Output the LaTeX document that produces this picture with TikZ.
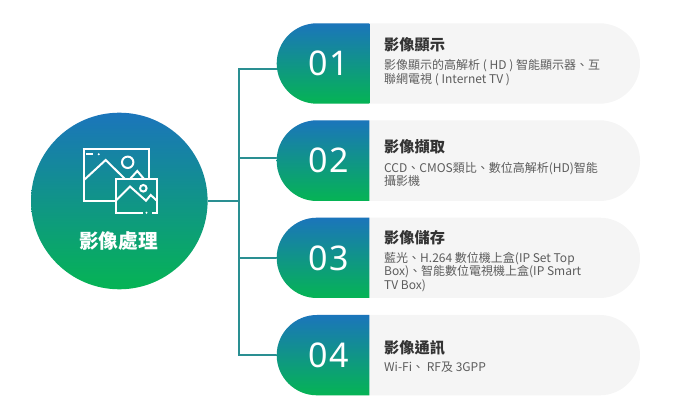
\documentclass[tikz,border=0pt]{standalone}
\usepackage{fontspec}
\setmainfont{Noto Sans CJK TC}
\newfontfamily\numfont{Noto Sans}
\definecolor{gblue}{HTML}{1B75BB}
\definecolor{ggreen}{HTML}{05B454}
\definecolor{linkc}{HTML}{2A8F92}
\definecolor{pillc}{HTML}{F5F5F5}
\definecolor{titlec}{HTML}{333333}
\definecolor{bodyc}{HTML}{5C5C5C}
\tikzset{
  grad/.style={top color=gblue,bottom color=ggreen,draw=none},
  hubnode/.style={circle,grad,minimum size=176.6pt,inner sep=0pt},
  hublabel/.style={text=white,inner sep=0pt,font=\fontsize{19.7}{22}\selectfont\bfseries},
  link/.style={draw=linkc,line width=2pt},
  iconline/.style={draw=white,line width=2pt,line cap=butt,line join=miter},
  numlabel/.style={text=white,inner sep=0pt,font=\numfont\fontsize{34}{38}\selectfont},
  titlelabel/.style={text=titlec,anchor=base west,inner sep=0pt,font=\fontsize{15.2}{18}\selectfont\bfseries},
  bodylabel/.style={text=bodyc,anchor=west,inner sep=0pt,align=left,font=\fontsize{12}{13.3}\selectfont},
}
\newcommand{\pillrow}[4]{%
  \fill[pillc,rounded corners=40.2pt] (276.7,#2) -- (640,#2) -- (640,#3) -- (276.7,#3) -- cycle;
  \path[grad] (369.3,#2) [rounded corners=40.2pt] -- (276.7,#2) -- (276.7,#3) [sharp corners] -- (369.3,#3) -- cycle;
  \node[numlabel] (#1) at (328.5,{(#2+#3)/2}) {#4};
}
\begin{document}
\begin{tikzpicture}[x=1pt,y=-1pt]
\useasboundingbox (0,0) rectangle (674,419);
% connectors
\node[hubnode] (hub) at (119.3,201) {};
\coordinate (c1) at (280,69);
\coordinate (c2) at (280,158);
\coordinate (c3) at (280,258);
\coordinate (c4) at (280,355);
\coordinate (s1) at (239.3,69);
\coordinate (s2) at (239.3,158);
\coordinate (s3) at (239.3,258);
\coordinate (s4) at (239.3,355);
\draw[link] (c1) -- (s1) -- (s4) -- (c4);
\draw[link] (c2) -- (s2);
\draw[link] (c3) -- (s3);
\draw[link] (hub.east) -- (hub.east -| s1);
% rows
\pillrow{n1}{23.3}{103.7}{0\kern1.5pt 1}
\pillrow{n2}{120.3}{201}{0\kern1.5pt 2}
\pillrow{n3}{217.7}{298}{0\kern1.5pt 3}
\pillrow{n4}{315}{395.3}{0\kern1.5pt 4}
% texts
\node[titlelabel] (t1) at (384,50.6) {影像顯示};
\node[bodylabel] (b1) at (384,72.5) {影像顯示的高解析 ( HD ) 智能顯示器、互\\聯網電視 ( Internet TV )};
\node[titlelabel] (t2) at (384,152.3) {影像擷取};
\node[bodylabel] (b2) at (384,174.5) {CCD、CMOS類比、數位高解析(HD)智能\\攝影機};
\node[titlelabel] (t3) at (384,243.9) {影像儲存};
\node[bodylabel] (b3) at (384,272) {藍光、H.264 數位機上盒(IP Set Top\\Box)、智能數位電視機上盒(IP Smart\\TV Box)};
\node[titlelabel] (t4) at (384,353.3) {影像通訊};
\node[bodylabel] (b4) at (384,367.6) {Wi-Fi、 RF及 3GPP};
% hub label
\node[hublabel] (hl) at (118.5,240.7) {影像處理};
% icon: large frame
\draw[iconline] (93,149) -- (83.5,149) (83.5,149) -- (83.5,201.5) -- (115.5,201.5);
\draw[iconline] (82.5,149) -- (148.5,149) -- (148.5,179);
\draw[iconline] (86,154) -- (93,154);
\fill[white] (98.7,154.3) circle (1.1);
\draw[iconline] (84,180) -- (105.7,160) -- (125,179);
\draw[iconline] (130,179) -- (137.3,171) -- (144,179);
\draw[iconline] (127.7,162.3) circle (5.7);
% icon: small frame
\draw[iconline] (143,212.7) -- (116,212.7) -- (116,179.5) -- (156.7,179.5) -- (156.7,213.7);
\draw[iconline] (152.3,212.7) -- (156.7,212.7);
\fill[white] (146.5,212.7) circle (1.1);
\draw[iconline] (116,200.5) -- (130,186.5) -- (146,200.7) -- (150.7,195) -- (156.7,200.5);
\draw[iconline] (143.3,188.3) circle (3.3);
\end{tikzpicture}
\end{document}
